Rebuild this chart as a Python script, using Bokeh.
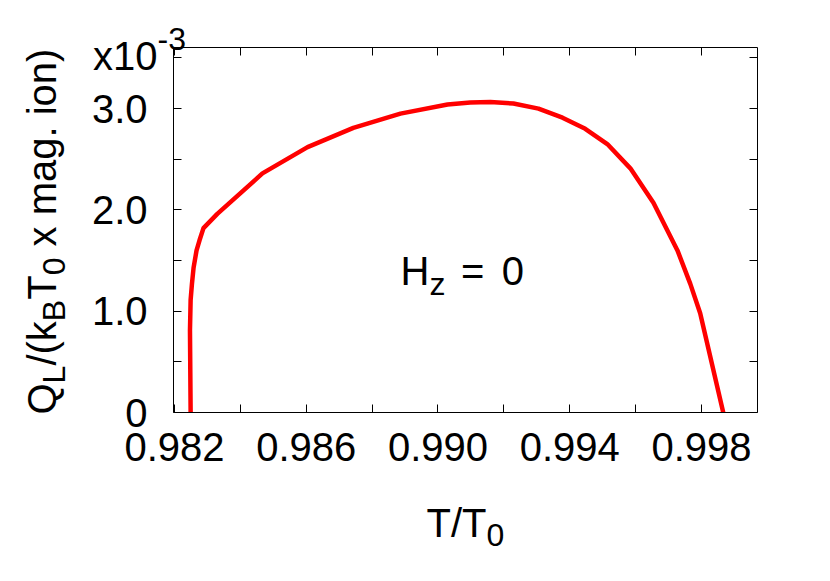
import math
from bokeh.plotting import figure
from bokeh.models import Label, LinearAxis, FixedTicker, Range1d, NumeralTickFormatter
from bokeh.embed import file_html
from bokeh.resources import INLINE

# ---- data (Q_L in units of 1e-3 k_B T0 per magnetic ion) ----
t_ratio = [0.98249, 0.98247, 0.98249, 0.98253, 0.98258, 0.98267, 0.98276, 0.98288,
           0.98330, 0.98467, 0.98604, 0.98743, 0.98886, 0.99029, 0.99098,
           0.99159, 0.99229, 0.99305, 0.99378, 0.99447, 0.99514, 0.99584, 0.99654,
           0.99727, 0.99766, 0.99796, 0.99866]
q_latent = [0.00, 0.81, 1.11, 1.27, 1.43, 1.60, 1.70, 1.82,
            1.96, 2.36, 2.62, 2.81, 2.95, 3.04, 3.06,
            3.065, 3.05, 3.00, 2.91, 2.80, 2.65, 2.41, 2.07,
            1.60, 1.27, 0.98, 0.00]

x_major = [0.982, 0.986, 0.990, 0.994, 0.998]
x_minor = [0.984, 0.988, 0.992, 0.996]
y_major = [0, 1, 2, 3]
y_minor = [0.5, 1.5, 2.5, 3.5]
y_zero_label = "0"
x_lo, x_hi = 0.98197, 0.99970
y_lo, y_hi = 0.0, 3.603

FONT = "Liberation Sans"
F = 40      # main font px
S = 32      # sub/superscript font px

# plot box in page pixels; the Bokeh frame fills the whole canvas
W, H = 822, 573
BL, BT, BW, BH = 173, 47, 584, 365
kx = BW / (x_hi - x_lo)
ky = BH / (y_hi - y_lo)
xr = Range1d(x_lo - BL / kx, x_lo + (W - BL) / kx)
yr = Range1d(y_lo - (H - BT - BH) / ky, y_hi + BT / ky)

p = figure(width=W, height=H, output_backend="svg", toolbar_location=None,
           x_range=xr, y_range=yr, x_axis_location=None, y_axis_location=None,
           min_border=0, min_border_left=0, min_border_right=0,
           min_border_top=0, min_border_bottom=0)
p.grid.visible = False
p.outline_line_color = None
p.background_fill_color = "white"
p.border_fill_color = "white"

p.line(t_ratio, q_latent, line_color="#ff0000", line_width=4.5, line_join="round")


def make_axis(loc, bounds, major, minor):
    ax = LinearAxis(fixed_location=loc, bounds=bounds,
                    ticker=FixedTicker(ticks=major, minor_ticks=minor))
    ax.major_tick_in = 8
    ax.major_tick_out = 0
    ax.minor_tick_in = 8
    ax.minor_tick_out = 0
    ax.major_tick_line_color = "black"
    ax.minor_tick_line_color = "black"
    ax.axis_line_color = "black"
    ax.axis_line_width = 1
    ax.major_label_text_font = FONT
    ax.major_label_text_font_size = f"{F}px"
    ax.major_label_text_color = "black"
    return ax


xb = make_axis(y_lo, (x_lo, x_hi), x_major, x_minor)
xb.formatter = NumeralTickFormatter(format="0.000")
xb.major_label_standoff = 20
yl = make_axis(x_lo, (y_lo, y_hi), y_major, y_minor)
yl.formatter = NumeralTickFormatter(format="0.0")
yl.major_label_overrides = {0: y_zero_label}
yl.major_label_standoff = 26
xt = make_axis(y_hi, (x_lo, x_hi), [], x_major + x_minor)
yrt = make_axis(x_hi, (y_lo, y_hi), [], y_major + y_minor)
p.add_layout(xb, "below")
p.add_layout(yl, "left")
p.add_layout(xt, "above")
p.add_layout(yrt, "right")

# ---- rich text helper (advance widths of Arial/Liberation Sans, em units) ----
ADV = {' ': 0.278, '(': 0.333, ')': 0.333, '/': 0.278, '.': 0.278, '=': 0.584,
       'x': 0.5, '-': 0.333, 'Q': 0.778, 'L': 0.556, 'k': 0.5, 'B': 0.667,
       'T': 0.611, 'm': 0.833, 'a': 0.556, 'g': 0.556, 'i': 0.222, 'o': 0.556,
       'n': 0.556, 'H': 0.722, 'z': 0.5}
for d in "0123456789":
    ADV[d] = 0.556


def width(s, size):
    return sum(ADV.get(c, 0.556) for c in s) * size


def put(text, ix, iy, size, ang=0):
    p.add_layout(Label(x=ix, y=H - iy, x_units="screen", y_units="screen",
                       text=text, text_font=FONT, text_font_size=f"{size}px",
                       text_color="black", text_baseline="alphabetic",
                       text_align="left", angle=ang))


def rich(parts, X, Y, vertical=False):
    """parts: (text, size, shift); shift = baseline offset downward in the glyph frame."""
    off = 0.0
    for text, size, shift in parts:
        lead = len(text) - len(text.lstrip(" "))
        off += lead * ADV[' '] * size
        body = text.lstrip(" ")
        if vertical:
            put(body, X + shift, Y - off, size, math.pi / 2)
        else:
            put(body, X + off, Y + shift, size)
        off += width(body, size)

# exponent above the y axis
rich([("x10", F, 0), ("-3", S, -17)], 92.5, 55)
# x-axis title
rich([("T/T", F, 0), ("0", S, 12)], 426, 522)
# y-axis title (rotated)
rich([("Q", F, 0), ("L", S, 12), ("/(k", F, 0), ("B", S, 12), ("T", F, 0),
      ("0", S, 12), (" x mag. ion)", F, 0)], 41, 414, vertical=True)
# field annotation
rich([("H", F, 0), ("z", S, 13)], 400, 270)
put("=", 460.5, 270, F)
put("0", 501.3, 270, F)

open("out.html", "w").write(file_html(p, INLINE))
